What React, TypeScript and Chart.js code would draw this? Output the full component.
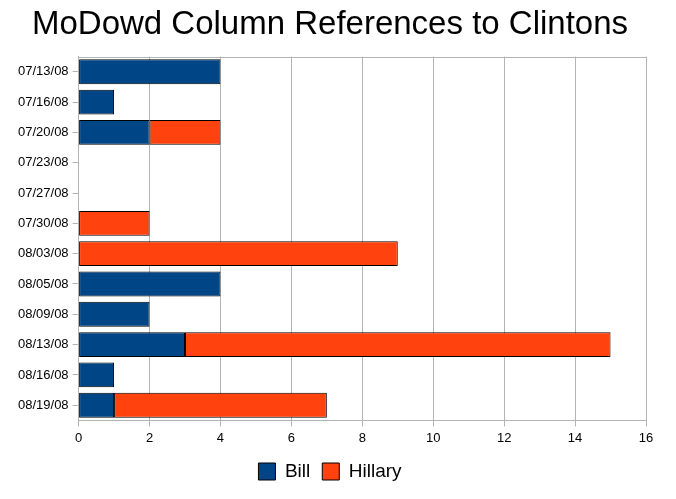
import React, { useEffect, useRef } from "react";
import { Chart, registerables } from "chart.js";

Chart.register(...registerables);

const categories = ["07/13/08", "07/16/08", "07/20/08", "07/23/08", "07/27/08", "07/30/08", "08/03/08", "08/05/08", "08/09/08", "08/13/08", "08/16/08", "08/19/08"];
const billValues = [4, 1, 2, 0, 0, 0, 0, 4, 2, 3, 1, 1];
const hillaryValues = [0, 0, 2, 0, 0, 2, 9, 0, 0, 12, 0, 6];
const chartTitle = "MoDowd Column References to Clintons";

const hideZero = (arr: number[]) => arr.map((v) => (v === 0 ? null : v));

const topBorder = {
  id: "topBorder",
  afterDraw(chart: any) {
    const { ctx, chartArea } = chart;
    ctx.save();
    ctx.strokeStyle = "#b3b3b3";
    ctx.lineWidth = 1;
    ctx.beginPath();
    ctx.moveTo(chartArea.left, Math.round(chartArea.top) + 0.5);
    ctx.lineTo(chartArea.right, Math.round(chartArea.top) + 0.5);
    ctx.stroke();
    ctx.restore();
  },
};

export default function App() {
  const ref = useRef<HTMLCanvasElement>(null);
  useEffect(() => {
    document.body.style.margin = "0";
    const chart = new Chart(ref.current!, {
      type: "bar",
      data: {
        labels: categories,
        datasets: [
          { label: "Bill", data: hideZero(billValues), backgroundColor: "#004586", borderColor: "#000000", borderWidth: 1, borderSkipped: false },
          { label: "Hillary", data: hideZero(hillaryValues), backgroundColor: "#ff420e", borderColor: "#000000", borderWidth: 1, borderSkipped: false },
        ],
      },
      options: {
        indexAxis: "y",
        animation: false,
        responsive: false,
        maintainAspectRatio: false,
        layout: { padding: { left: 14, right: 30, top: 0, bottom: 8 } },
        datasets: { bar: { barPercentage: 0.82, categoryPercentage: 1 } },
        plugins: {
          title: {
            display: true,
            text: chartTitle,
            color: "#000000",
            font: { family: "Liberation Sans", size: 33, weight: "normal" },
            padding: { top: 5, bottom: 12 },
          },
          legend: {
            position: "bottom",
            labels: {
              color: "#000000",
              font: { family: "Liberation Sans", size: 19 },
              boxWidth: 17,
              boxHeight: 17,
              padding: 12,
            },
          },
          tooltip: { enabled: false },
        },
        scales: {
          x: {
            stacked: true,
            min: 0,
            max: 16,
            ticks: { stepSize: 2, color: "#000000", font: { family: "Liberation Sans", size: 13 }, padding: 4 },
            grid: { color: "#b3b3b3", tickLength: 6, drawTicks: true },
            border: { color: "#b3b3b3" },
          },
          y: {
            stacked: true,
            ticks: { color: "#000000", font: { family: "Liberation Sans", size: 13 }, padding: 4 },
            grid: { drawOnChartArea: false, offset: false, color: "#b3b3b3", tickLength: 6 },
            border: { color: "#b3b3b3" },
          },
        },
      },
      plugins: [topBorder],
    });
    return () => chart.destroy();
  }, []);
  return <canvas ref={ref} width={676} height={499} style={{ display: "block" }} />;
}
